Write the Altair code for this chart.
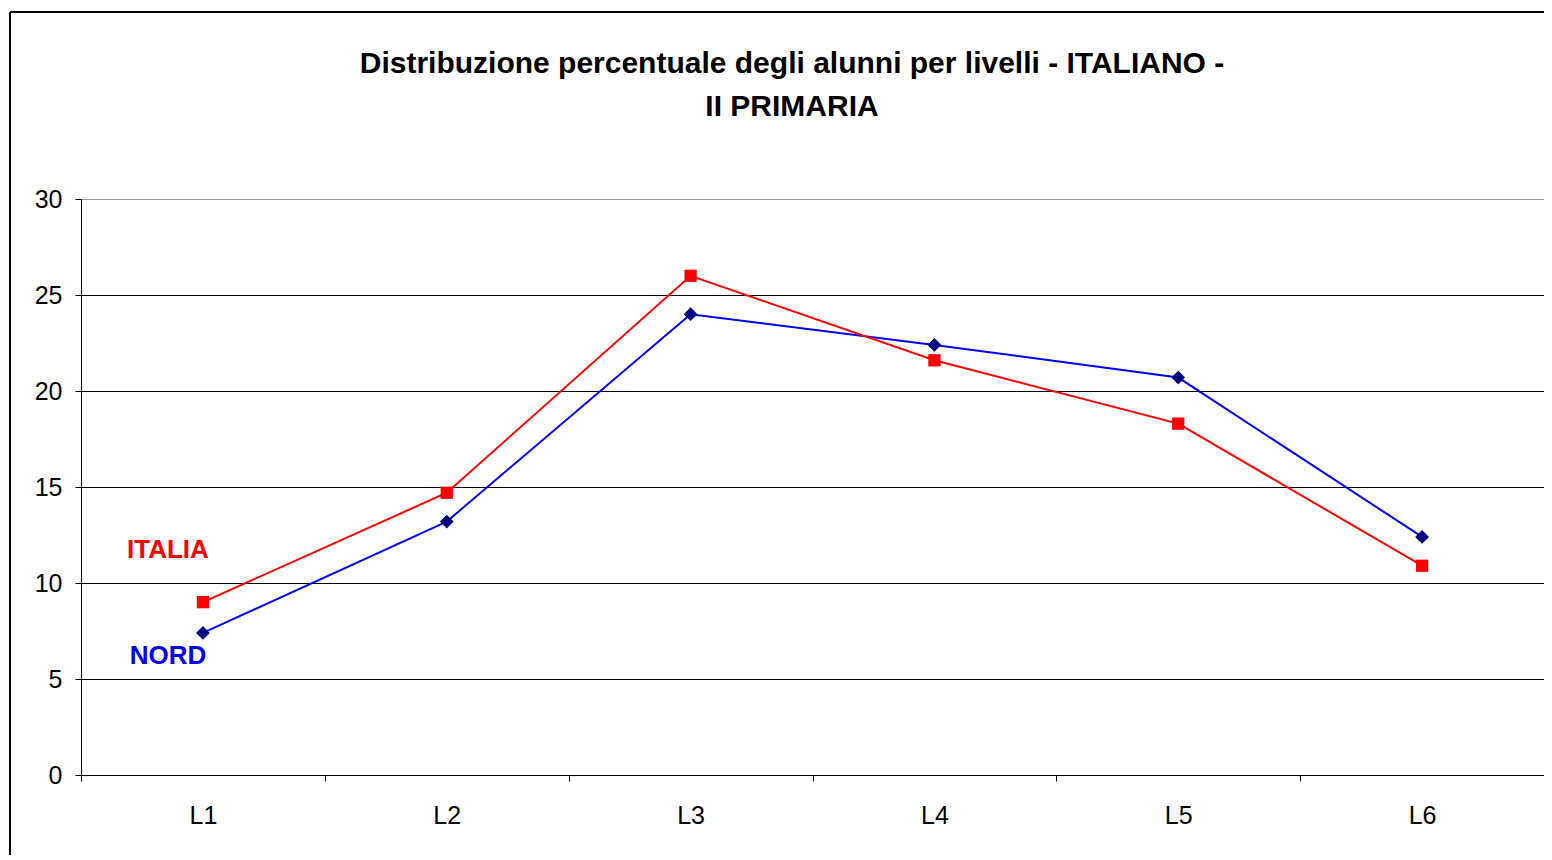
import altair as alt
import pandas as pd

livelli = ["L1", "L2", "L3", "L4", "L5", "L6"]
italia = [9.0, 14.7, 26.0, 21.6, 18.3, 10.9]
nord = [7.4, 13.2, 24.0, 22.4, 20.7, 12.4]
y_ticks = [0, 5, 10, 15, 20, 25, 30]
title_lines = ["Distribuzione percentuale degli alunni per livelli - ITALIANO -", "II PRIMARIA"]
label_names = ["ITALIA", "NORD"]
label_values = [11.7, 6.2]
label_colors = ["#FF0000", "#0000FF"]

W, H = 1463, 576
FONT = "Liberation Sans"

df_it = pd.DataFrame({"livello": livelli, "valore": italia})
df_no = pd.DataFrame({"livello": livelli, "valore": nord})
df_lab = pd.DataFrame({"livello": ["L1", "L1"], "valore": label_values,
                       "nome": label_names, "colore": label_colors})
df_t1 = pd.DataFrame({"riga": [title_lines[0]]})
df_t2 = pd.DataFrame({"riga": [title_lines[1]]})

x = alt.X("livello:N", sort=livelli,
          scale=alt.Scale(paddingInner=0, paddingOuter=0),
          axis=alt.Axis(title=None, labelAngle=0, tickBand="extent", tickSize=6,
                        labelFont=FONT, labelFontSize=25, labelColor="#000000",
                        labelPadding=22, domainColor="#000000", tickColor="#000000",
                        grid=False))
y = alt.Y("valore:Q",
          scale=alt.Scale(domain=[0, 30], nice=False),
          axis=alt.Axis(title=None, values=y_ticks, tickSize=6, labelPadding=13,
                        labelFont=FONT, labelFontSize=25, labelColor="#000000",
                        domainColor="#000000", tickColor="#000000",
                        gridColor={"condition": {"test": "datum.value === 30", "value": "#999999"},
                                   "value": "#000000"},
                        gridWidth=1))

base_it = alt.Chart(df_it).encode(x=x, y=y)
base_no = alt.Chart(df_no).encode(x=x, y=y)

line_no = base_no.mark_line(color="#0000FF", strokeWidth=2)
pts_no = base_no.mark_point(shape="diamond", filled=True, size=190, color="#000080", opacity=1)
line_it = base_it.mark_line(color="#FF0000", strokeWidth=2)
pts_it = base_it.mark_point(shape="square", filled=True, size=150, color="#FF0000", opacity=1)

labels = alt.Chart(df_lab).mark_text(font=FONT, fontSize=26, fontWeight="bold", dx=-35).encode(
    x=alt.X("livello:N", sort=livelli), y="valore:Q",
    text="nome:N", color=alt.Color("colore:N", scale=None))

title_style = dict(font=FONT, fontSize=30, fontWeight="bold", color="#000000",
                   align="center", baseline="alphabetic")
title1 = alt.Chart(df_t1).mark_text(**title_style).encode(
    x=alt.value(711), y=alt.value(-126), text="riga:N")
title2 = alt.Chart(df_t2).mark_text(**title_style).encode(
    x=alt.value(711), y=alt.value(-83), text="riga:N")

frame_left = alt.Chart(df_it).mark_rule(color="#000000", strokeWidth=1.5).encode(
    x=alt.value(-71), y=alt.value(-187), y2=alt.value(H + 90))
frame_top = alt.Chart(df_it).mark_rule(color="#000000", strokeWidth=1.5).encode(
    x=alt.value(-71), x2=alt.value(W + 10), y=alt.value(-187))

chart = alt.layer(frame_left, frame_top, title1, title2, line_no, line_it, pts_no, pts_it, labels).properties(
    width=W, height=H,
    padding={"left": 73, "top": 191, "right": 0, "bottom": 80},
    autosize=alt.AutoSizeParams(type="none"),
).configure_view(stroke=None).configure(background="#FFFFFF")

chart.save("out.html", embed_options={"renderer": "svg", "actions": False})
